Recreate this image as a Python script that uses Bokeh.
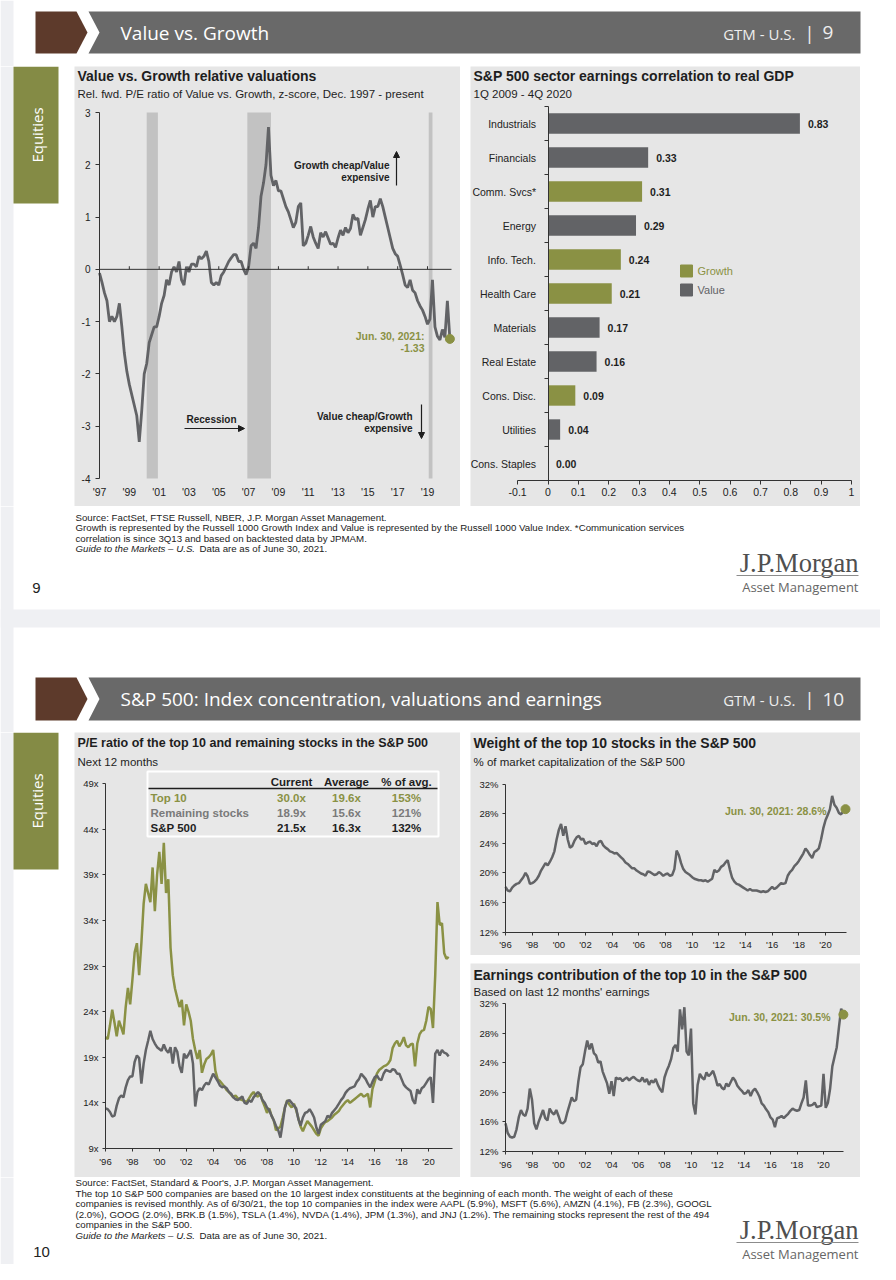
import math
from bokeh.plotting import figure
from bokeh.layouts import row, column
from bokeh.models import Range1d, LinearAxis, FixedTicker, PrintfTickFormatter, Arrow, NormalHead
from bokeh.core.properties import value
from bokeh.embed import file_html
from bokeh.resources import INLINE

# ======================= DATA =======================
# Chart 1: Value vs. Growth relative fwd P/E z-score (every 2 months, first obs. Dec 1997)
vg_first_month = (1997, 12)
vg_step_months = 2
vg_zscore = [
    -0.07, -0.25, -0.45, -0.6, -1.0, -0.9, -1.0, -0.9, -0.65, -1.1,
    -1.6, -1.95, -2.2, -2.4, -2.6, -2.8, -3.3, -2.7, -2.0, -1.8,
    -1.4, -1.25, -1.1, -1.1, -0.9, -0.65, -0.5, -0.2, -0.3, -0.05,
    0.05, -0.05, 0.15, -0.2, -0.3, 0.05, -0.05, 0.1, 0.1, 0.05,
    0.25, 0.2, 0.25, 0.35, 0.15, -0.25, -0.3, -0.25, -0.3, -0.12,
    -0.05, 0.05, 0.15, 0.22, 0.28, 0.28, 0.15, 0.15, 0.0, -0.1,
    0.05, 0.45, 0.5, 0.4, 0.8, 1.4, 1.65, 2.0, 2.72, 1.8,
    1.6, 1.7, 1.5, 1.5, 1.35, 1.2, 1.1, 0.95, 0.8, 0.9,
    1.2, 1.27, 0.45, 0.5, 0.65, 0.82, 0.62, 0.5, 0.4, 0.7,
    0.62, 0.72, 0.6, 0.48, 0.5, 0.42, 0.6, 0.75, 0.65, 0.8,
    0.7, 0.78, 1.05, 0.95, 0.98, 0.65, 0.8, 0.95, 1.15, 1.32,
    1.0, 1.2, 1.2, 1.35, 1.2, 1.0, 0.8, 0.6, 0.4, 0.3,
    0.25, 0.08, -0.1, -0.3, -0.35, -0.2, -0.4, -0.45, -0.6, -0.7,
    -0.78, -0.9, -1.05, -0.95, -0.2, -1.1, -1.28, -1.35, -1.15, -1.3,
    -0.6, -1.33,
]
recession_start = [(2001, 3), (2007, 12), (2020, 2)]
recession_end = [(2001, 11), (2009, 6), (2020, 4)]
vg_tick_years = [1997, 1999, 2001, 2003, 2005, 2007, 2009, 2011, 2013, 2015, 2017, 2019]
vg_y_ticks = [-4, -3, -2, -1, 0, 1, 2, 3]

# Chart 2: S&P 500 sector earnings correlation to real GDP
sectors = ["Industrials", "Financials", "Comm. Svcs*", "Energy", "Info. Tech.", "Health Care",
           "Materials", "Real Estate", "Cons. Disc.", "Utilities", "Cons. Staples"]
sector_corr = [0.83, 0.33, 0.31, 0.29, 0.24, 0.21, 0.17, 0.16, 0.09, 0.04, 0.00]
sector_style = ["Value", "Value", "Growth", "Value", "Growth", "Growth",
                "Value", "Value", "Growth", "Value", "Value"]
corr_ticks = [-0.1, 0.0, 0.1, 0.2, 0.3, 0.4, 0.5, 0.6, 0.7, 0.8, 0.9, 1.0]

# Charts 3-5: every 2 months, first obs. Dec 1995
s2_first_month = (1995, 12)
s2_step_months = 2
pe_top10 = [
    21.2, 21.0, 22.5, 24.2, 22.8, 21.3, 23.0, 22.3, 21.5, 24.5,
    26.6, 24.8, 27.5, 30.5, 31.5, 28.0, 31.5, 35.8, 38.0, 37.0,
    36.0, 39.8, 35.0, 39.0, 41.5, 38.0, 42.5, 37.0, 38.5, 31.0,
    28.0, 26.5, 25.5, 24.5, 25.3, 22.5, 24.8, 24.0, 23.0, 21.0,
    19.8, 18.8, 19.8, 17.3, 18.2, 18.8, 19.0, 19.3, 19.8, 17.5,
    16.6, 16.4, 16.1, 15.8, 15.4, 15.2, 14.9, 14.6, 14.8, 14.5,
    14.4, 14.3, 14.2, 14.1, 14.5, 14.9, 15.2, 14.8, 14.7, 15.0,
    14.2, 13.6, 12.9, 13.4, 12.6, 12.1, 11.0, 11.2, 11.4, 12.4,
    13.5, 14.3, 13.8, 13.5, 13.9, 13.2, 12.3, 11.4, 10.9, 11.5,
    12.0, 11.7, 11.4, 11.0, 10.6, 10.4, 11.2, 11.6, 11.9, 12.0,
    12.2, 12.4, 12.7, 12.9, 13.1, 13.5, 13.8, 14.1, 14.3, 14.0,
    14.2, 14.4, 14.6, 14.8, 15.0, 14.7, 14.8, 15.0, 13.5, 15.5,
    16.3, 17.2, 17.6, 17.8, 18.0, 18.1, 18.3, 18.7, 20.0, 20.5,
    20.8, 20.2, 20.6, 21.2, 20.3, 20.1, 20.4, 20.5, 18.0, 20.5,
    21.5, 21.9, 22.0, 23.0, 24.5, 24.3, 22.2, 28.0, 36.0, 33.5,
    33.7, 30.4, 29.8, 30.0,
]
pe_remaining = [
    13.4, 13.3, 13.0, 12.5, 12.6, 13.7, 14.5, 14.8, 14.6, 15.7,
    16.5, 16.9, 16.9, 18.5, 19.2, 18.9, 16.1, 18.3, 19.8, 20.8,
    21.9, 21.0, 20.5, 20.1, 19.9, 19.7, 20.4, 19.8, 19.5, 20.1,
    18.3, 20.1, 19.6, 18.0, 17.3, 19.4, 18.9, 19.3, 19.8, 18.3,
    13.6, 15.2, 15.6, 15.4, 15.9, 16.2, 16.0, 16.6, 17.2, 16.8,
    16.4, 15.9, 15.7, 15.8, 15.6, 15.2, 15.0, 14.6, 14.4, 14.3,
    14.5, 14.7, 14.0, 13.9, 14.3, 14.1, 14.6, 14.9, 15.2, 14.9,
    14.3, 14.0, 13.5, 13.2, 12.6, 12.1, 11.5, 11.0, 10.2, 11.8,
    13.5, 14.2, 14.3, 14.0, 13.7, 13.4, 12.2, 11.5, 12.4, 12.9,
    13.0, 13.3, 12.9, 12.4, 11.3, 10.6, 11.6, 11.8, 12.0, 12.6,
    12.4, 12.9, 13.2, 13.5, 13.9, 14.3, 14.6, 15.1, 15.4, 15.6,
    15.7, 15.8, 16.3, 16.6, 17.2, 16.9, 16.6, 16.1, 15.7, 16.3,
    16.8, 17.0, 16.6, 16.5, 17.2, 17.6, 17.5, 17.4, 17.7, 17.6,
    17.2, 17.2, 16.6, 16.0, 15.7, 15.5, 15.3, 14.3, 13.9, 15.5,
    15.0, 15.6, 15.8, 16.2, 16.6, 16.8, 14.0, 19.4, 19.8, 19.2,
    19.8, 19.5, 19.4, 19.1,
]
pe_y_ticks = [9, 14, 19, 24, 29, 34, 39, 44, 49]
table_header = ["Current", "Average", "% of avg."]
table_rows = ["Top 10", "Remaining stocks", "S&P 500"]
table_current = ["30.0x", "18.9x", "21.5x"]
table_average = ["19.6x", "15.6x", "16.3x"]
table_pct = ["153%", "121%", "132%"]

weight_top10 = [
    18.1, 17.6, 17.5, 18.0, 18.3, 18.5, 18.6, 19.0, 19.4, 20.0,
    19.5, 18.5, 18.6, 18.8, 19.1, 19.6, 20.3, 20.8, 21.3, 21.0,
    21.5, 22.1, 22.9, 24.5, 25.8, 26.6, 25.0, 26.3, 24.5, 23.4,
    23.6, 24.3, 24.8, 25.0, 24.5, 24.6, 23.9, 24.1, 24.2, 23.9,
    24.0, 23.6, 24.2, 24.3, 23.7, 23.4, 23.2, 22.9, 22.8, 22.6,
    22.7, 22.4, 22.1, 21.8, 21.4, 21.2, 20.9, 20.6, 20.6, 20.3,
    20.1, 19.9, 19.8, 19.6, 20.2, 20.1, 19.9, 19.7, 19.8, 20.1,
    19.9, 19.6, 19.8, 19.9, 19.6, 19.7, 20.5, 23.0, 22.4, 21.3,
    20.5, 20.1, 19.9, 19.7, 19.4, 19.2, 19.1, 19.0, 19.0, 18.9,
    19.0, 18.8, 19.0, 19.2, 20.4, 20.1, 20.3, 20.8, 21.0, 21.4,
    21.7, 20.4, 19.3, 18.8, 18.5, 18.4, 18.2, 18.0, 17.8, 17.6,
    17.8, 17.6, 17.6, 17.6, 17.5, 17.4, 17.5, 17.4, 17.5, 17.8,
    18.1, 17.8, 18.0, 18.3, 18.6, 18.5, 18.6, 19.6, 20.1, 20.4,
    20.9, 21.2, 21.6, 22.1, 22.6, 23.3, 22.9, 22.4, 22.0, 22.8,
    23.0, 23.3, 24.5, 26.0, 27.1, 27.8, 28.6, 30.4, 29.2, 28.8,
    28.1, 27.9, 28.3, 28.6,
]
earnings_top10 = [
    15.8, 14.5, 14.0, 13.9, 14.0, 15.0, 16.6, 17.6, 17.0, 16.8,
    17.8, 20.5, 19.0, 15.8, 15.0, 16.0, 16.8, 17.6, 16.5, 16.2,
    17.8, 17.3, 17.0, 17.6, 16.8, 15.9, 15.8, 16.1, 17.3, 18.3,
    19.3, 18.8, 19.0, 21.5, 23.4, 23.8, 25.5, 27.0, 25.8, 26.6,
    25.3, 25.0, 24.0, 24.2, 22.8, 22.0, 21.2, 19.8, 21.5, 19.5,
    22.0, 21.8, 21.9, 21.5, 21.8, 22.0, 21.6, 21.9, 22.1, 21.8,
    21.6, 21.5, 22.0, 21.4, 21.8, 21.0, 21.6, 21.3, 21.8, 21.0,
    20.4, 20.0, 22.0, 22.9, 23.6, 24.5, 26.0, 26.4, 25.5, 31.2,
    28.5, 31.5, 25.5, 25.0, 28.6, 18.5, 17.0, 21.0, 22.5, 22.0,
    21.7, 22.7, 22.2, 22.5, 22.9, 22.0, 20.9, 21.1, 20.6, 20.4,
    21.2, 20.8, 21.4, 22.0, 21.6, 20.9, 20.5, 20.2, 19.8, 19.9,
    20.3, 19.5, 20.2, 20.5, 20.0, 19.4, 18.5, 18.2, 17.7, 17.3,
    16.6, 16.3, 15.3, 16.5, 16.6, 16.8, 16.5, 16.8, 17.1, 17.5,
    17.8, 17.6, 17.5, 17.6, 18.5, 19.3, 21.6, 18.2, 18.2, 18.3,
    18.6, 18.0, 18.1, 18.2, 22.5, 17.9, 18.6, 20.5, 23.5, 24.8,
    26.1, 28.8, 31.3, 30.5,
]
pct_y_ticks = [12, 16, 20, 24, 28, 32]
s2_tick_years = [1996, 1998, 2000, 2002, 2004, 2006, 2008, 2010, 2012, 2014, 2016, 2018, 2020]

# ======================= STYLE =======================
OLIVE = "#8a9144"
GRAY = "#626366"
PANEL = "#e6e6e6"
HEADER = "#696969"
BROWN = "#5d3a2b"
TAB = "#848b45"
REC = "#c2c2c2"
SIDE = "#eff0f3"
INK = "#1e1e1e"
AXIS = "#333333"
SANS = "Liberation Sans"


def month_end(y, m):
    return (y * 12 + m) / 12.0


def month_start(y, m):
    return (y * 12 + m - 1) / 12.0


def series_x(first, step, n):
    b = month_end(*first)
    return [b + k * step / 12.0 for k in range(n)]


class Geo:
    """Maps page-layout pixels of a panel onto the data space of its figure."""
    def __init__(self, x0, y0, w, h, xa=(0, 0), xb=(1, 1), ya=(0, 0), yb=(1, 1)):
        self.x0, self.y0, self.w, self.h = x0, y0, w, h
        self.xa, self.ya = xa, ya
        self.kx = (xb[1] - xa[1]) / (xb[0] - xa[0])
        self.ky = (yb[1] - ya[1]) / (yb[0] - ya[0])

    def X(self, px):
        return self.xa[1] + (px - self.xa[0]) * self.kx

    def Y(self, py):
        return self.ya[1] + (py - self.ya[0]) * self.ky


def make_fig(g, bg):
    p = figure(width=g.w, height=g.h,
               x_range=Range1d(g.X(g.x0), g.X(g.x0 + g.w)),
               y_range=Range1d(g.Y(g.y0 + g.h), g.Y(g.y0)),
               x_axis_type=None, y_axis_type=None, min_border=0, min_border_left=0,
               min_border_right=0, min_border_top=0, min_border_bottom=0,
               outline_line_color=None, background_fill_color=bg, border_fill_color=bg,
               toolbar_location=None, tools="", output_backend="svg")
    return p


def canvas(x0, y0, w, h, bg="#ffffff"):
    g = Geo(x0, y0, w, h)
    p = make_fig(g, bg)
    p.quad(left=[x0], right=[x0 + w], top=[y0], bottom=[y0 + h], fill_color=bg, line_color=None)
    return p, g


def gtxt(p, g, px, py, s, size, color=INK, font=SANS, style="normal", align="left",
         baseline="middle", angle=0.0):
    p.text(x=[g.X(px)], y=[g.Y(py)], text=[s], text_font=value(font),
           text_font_size=value(f"{size}px"), text_color=color,
           text_font_style=value(style), text_align=value(align),
           text_baseline=value(baseline), angle=angle)


def garrow(p, g, x0, y0, x1, y1):
    p.add_layout(Arrow(end=NormalHead(size=6, fill_color=INK, line_color=INK),
                       x_start=g.X(x0), y_start=g.Y(y0), x_end=g.X(x1), y_end=g.Y(y1),
                       line_color=INK, line_width=1.2))


def make_axis(ticks, size, standoff, tick_out=4, formatter=None, overrides=None, line=True,
              minor=None, fixed=None, bounds=None):
    ax = LinearAxis(ticker=FixedTicker(ticks=ticks, minor_ticks=minor or []))
    if formatter is not None:
        ax.formatter = formatter
    if overrides is not None:
        ax.major_label_overrides = overrides
    ax.axis_line_color = AXIS if line else None
    ax.axis_line_width = 1
    ax.major_tick_line_color = AXIS if tick_out else None
    ax.major_tick_out = tick_out
    ax.major_tick_in = 0
    ax.minor_tick_line_color = AXIS if minor else None
    ax.minor_tick_out = 4
    ax.minor_tick_in = 0
    ax.major_label_standoff = standoff
    ax.major_label_text_font = SANS
    ax.major_label_text_font_size = f"{size}px"
    ax.major_label_text_color = "#222222"
    if fixed is not None:
        ax.fixed_location = fixed
    if bounds is not None:
        ax.bounds = bounds
    return ax


def header(p, g, ytop, ybot, title, num):
    ym = (ytop + ybot) / 2
    p.patch([35, 76, 87, 76, 35], [ytop, ytop, ym, ybot, ybot], fill_color=BROWN, line_color=None)
    p.patch([88, 860, 860, 88, 99], [ytop, ytop, ybot, ybot, ym], fill_color=HEADER, line_color=None)
    gtxt(p, g, 120, ym, title, 19, "#ffffff", "Open Sans")
    gtxt(p, g, 795, ym + 1, "GTM - U.S.", 15, "#eeeeee", "Open Sans", align="right")
    gtxt(p, g, 809, ym, "|", 19, "#eeeeee", "Open Sans", align="center")
    gtxt(p, g, 822, ym, num, 19, "#eeeeee", "Open Sans")


def logo(p, g, yj, yl, ya):
    gtxt(p, g, 858, yj, "J.P.Morgan", 26.5, "#4f4f4f", "Liberation Serif", align="right")
    p.segment(x0=[736], y0=[yl], x1=[858], y1=[yl], line_color="#8c8c8c", line_width=1)
    gtxt(p, g, 858, ya, "Asset Management", 13, "#666666", "Open Sans", align="right")


def footnotes(p, g, lines, y0, dy):
    for i, s in enumerate(lines):
        gtxt(p, g, 75, y0 + i * dy, s, 9.7, "#222222")
    yl = y0 + len(lines) * dy
    gtxt(p, g, 75, yl, "Guide to the Markets – U.S.", 9.7, "#222222", style="italic")
    gtxt(p, g, 199, yl, "Data are as of June 30, 2021.", 9.7, "#222222")


def tab(p, g, y0, y1):
    p.quad(left=[13], right=[58], top=[y0], bottom=[y1], fill_color=TAB, line_color=None)
    gtxt(p, g, 36, (y0 + y1) / 2, "Equities", 15, "#ffffff", "Open Sans", align="center",
         angle=math.pi / 2)


def left_strip(p, y0, y1):
    p.quad(left=[0], right=[13], top=[y0], bottom=[y1], fill_color=SIDE, line_color=None)


# ======================= ROW 1: header slide 1 =======================
h1, gh1 = canvas(0, 0, 880, 66)
left_strip(h1, 0, 66)
header(h1, gh1, 11, 53, "Value vs. Growth", "9")

# ======================= ROW 2: slide 1 charts =======================
g1, gg1 = canvas(0, 66, 74, 440)
left_strip(g1, 66, 506)
tab(g1, gg1, 66, 203)

# ---- Chart 1 ----
vg_x = series_x(vg_first_month, vg_step_months, len(vg_zscore))
vg_xticks = [month_end(y, 12) for y in vg_tick_years]
vg_labels = {month_end(y, 12): "'%02d" % (y % 100) for y in vg_tick_years}
G1 = Geo(74, 66, 386, 440, (99, vg_xticks[0]), (427, vg_xticks[-1]), (112, 3.0), (478, -4.0))
p1 = make_fig(G1, PANEL)
gtxt(p1, G1, 77, 75, "Value vs. Growth relative valuations", 14, INK, style="bold")
gtxt(p1, G1, 77, 93, "Rel. fwd. P/E ratio of Value vs. Growth, z-score, Dec. 1997 - present", 11.5, INK)
p1.quad(left=[month_start(*s) for s in recession_start], right=[month_end(*e) for e in recession_end],
        bottom=vg_y_ticks[0], top=vg_y_ticks[-1], fill_color=REC, line_color=None)
p1.line(vg_x, vg_zscore, line_color=GRAY, line_width=2.8)
p1.segment(x0=[vg_xticks[0]], y0=[0], x1=[G1.X(451)], y1=[0], line_color=AXIS, line_width=1)
p1.segment(x0=vg_xticks, y0=0, x1=vg_xticks, y1=0.06, line_color=AXIS, line_width=1)
p1.scatter([vg_x[-1]], [vg_zscore[-1]], size=9, color=OLIVE)
gtxt(p1, G1, 389, 165, "Growth cheap/Value", 10, INK, style="bold", align="right")
gtxt(p1, G1, 389, 177, "expensive", 10, INK, style="bold", align="right")
garrow(p1, G1, 396, 185, 396, 151)
gtxt(p1, G1, 186, 419, "Recession", 10, INK, style="bold")
garrow(p1, G1, 184, 428, 244, 428)
gtxt(p1, G1, 412, 416, "Value cheap/Growth", 10, INK, style="bold", align="right")
gtxt(p1, G1, 412, 428, "expensive", 10, INK, style="bold", align="right")
garrow(p1, G1, 421, 404, 421, 438)
gtxt(p1, G1, 424, 335, "Jun. 30, 2021:", 10.5, OLIVE, style="bold", align="right")
gtxt(p1, G1, 424, 347, "%.2f" % vg_zscore[-1], 10.5, OLIVE, style="bold", align="right")
p1.add_layout(make_axis(vg_y_ticks, 10, 5, 4, formatter=PrintfTickFormatter(format="%d"),
                        fixed=vg_xticks[0], bounds=(vg_y_ticks[0], vg_y_ticks[-1])), "left")
p1.add_layout(make_axis(vg_xticks, 10.5, 7, 0, overrides=vg_labels, line=False,
                        fixed=vg_y_ticks[0]), "below")

gap1, _ = canvas(460, 66, 10, 440)

# ---- Chart 2 ----
ypos = list(range(len(sectors) - 1, -1, -1))
bar_colors = [OLIVE if s == "Growth" else GRAY for s in sector_style]
G2 = Geo(470, 66, 390, 440, (547.5, 0.0), (851, 1.0), (123, ypos[0]), (463, ypos[-1]))
p2 = make_fig(G2, PANEL)
gtxt(p2, G2, 473, 75, "S&P 500 sector earnings correlation to real GDP", 14, INK, style="bold")
gtxt(p2, G2, 473, 93, "1Q 2009 - 4Q 2020", 11.5, INK)
p2.hbar(y=ypos, left=0, right=sector_corr, height=0.6, fill_color=bar_colors, line_color=None)
p2.text(x=sector_corr, y=ypos, text=["%.2f" % v for v in sector_corr], x_offset=8,
        text_font=value(SANS), text_font_size=value("10.5px"), text_font_style=value("bold"),
        text_color=INK, text_baseline=value("middle"))
p2.scatter([G2.X(686)] * 2, [G2.Y(270.5), G2.Y(289.5)], marker="square", size=12,
           color=[OLIVE, GRAY])
p2.text(x=[G2.X(697)] * 2, y=[G2.Y(270.5), G2.Y(289.5)], text=["Growth", "Value"],
        text_color=[OLIVE, GRAY], text_font=value(SANS), text_font_size=value("11px"),
        text_baseline=value("middle"))
p2.add_layout(make_axis(ypos, 10.5, 8, 0,
                        overrides={ypos[i]: sectors[i] for i in range(len(sectors))},
                        minor=[k + 0.5 for k in range(-1, len(sectors))], fixed=0,
                        bounds=(-0.5, len(sectors) - 0.5)), "left")
p2.add_layout(make_axis(corr_ticks, 10.5, 3, 4, formatter=PrintfTickFormatter(format="%g"),
                        fixed=-0.5, bounds=(corr_ticks[0], corr_ticks[-1])), "below")

r1, _ = canvas(860, 66, 20, 440)

row2 = row(g1, p1, gap1, p2, r1)

# ======================= ROW 3: footer slide 1 + header slide 2 =======================
mid, gm = canvas(0, 506, 880, 226)
left_strip(mid, 506, 732)
footnotes(mid, gm, [
    "Source: FactSet, FTSE Russell, NBER, J.P. Morgan Asset Management.",
    "Growth is represented by the Russell 1000 Growth Index and Value is represented by the Russell 1000 Value Index. *Communication services",
    "correlation is since 3Q13 and based on backtested data by JPMAM.",
], 517, 10.4)
gtxt(mid, gm, 36, 587, "9", 15, "#222222", align="center")
logo(mid, gm, 562, 575, 586)
mid.quad(left=[0], right=[880], top=[609], bottom=[627], fill_color=SIDE, line_color=None)
header(mid, gm, 677, 720, "S&P 500: Index concentration, valuations and earnings", "10")

# ======================= ROW 4: slide 2 charts =======================
g2, gg2 = canvas(0, 732, 74, 445)
left_strip(g2, 732, 1177)
tab(g2, gg2, 732, 869)

s2_x = series_x(s2_first_month, s2_step_months, len(pe_top10))
s2_ticks = [month_start(y, 1) for y in s2_tick_years]
s2_labels = {month_start(y, 1): "'%02d" % (y % 100) for y in s2_tick_years}

# ---- Chart 3 ----
G3 = Geo(74, 732, 386, 445, (105, s2_ticks[0]), (428, s2_ticks[-1]), (1148, pe_y_ticks[0]),
         (783, pe_y_ticks[-1]))
p3 = make_fig(G3, PANEL)
gtxt(p3, G3, 77, 742, "P/E ratio of the top 10 and remaining stocks in the S&P 500", 12.5, INK, style="bold")
gtxt(p3, G3, 77, 761, "Next 12 months", 11.5, INK)
p3.line(s2_x, pe_top10, line_color=OLIVE, line_width=2.5)
p3.line(s2_x, pe_remaining, line_color=GRAY, line_width=2.5)
p3.quad(left=[G3.X(147)], right=[G3.X(438)], top=[G3.Y(771)], bottom=[G3.Y(836)],
        fill_color="#e8e8e8", line_color="#ffffff", line_width=2)
p3.segment(x0=[G3.X(148)], y0=[G3.Y(788)], x1=[G3.X(437)], y1=[G3.Y(788)], line_color=INK,
           line_width=1.3)
col_px = [291, 346, 406]
row_py = [797, 812, 827]
row_colors = [OLIVE, "#7a7a7a", INK]
for j, h in enumerate(table_header):
    gtxt(p3, G3, col_px[j], 781, h, 11.5, INK, style="bold", align="center")
for i, name in enumerate(table_rows):
    gtxt(p3, G3, 150, row_py[i], name, 11.5, row_colors[i], style="bold")
    for j, cell in enumerate([table_current[i], table_average[i], table_pct[i]]):
        gtxt(p3, G3, col_px[j], row_py[i], cell, 11.5, row_colors[i], style="bold", align="center")
p3.add_layout(make_axis(pe_y_ticks, 9.5, 4, 3, formatter=PrintfTickFormatter(format="%dx"),
                        fixed=s2_ticks[0], bounds=(pe_y_ticks[0], pe_y_ticks[-1])), "left")
p3.add_layout(make_axis(s2_ticks, 9.5, 4, 3, overrides=s2_labels, fixed=pe_y_ticks[0],
                        bounds=(s2_ticks[0], G3.X(452))), "below")

gap2, _ = canvas(460, 732, 10, 445)

# ---- Chart 4 ----
G4 = Geo(470, 732, 390, 223, (505, s2_ticks[0]), (825, s2_ticks[-1]), (931.5, pct_y_ticks[0]),
         (783.5, pct_y_ticks[-1]))
p4 = make_fig(G4, PANEL)
gtxt(p4, G4, 473, 742, "Weight of the top 10 stocks in the S&P 500", 14, INK, style="bold")
gtxt(p4, G4, 473, 761, "% of market capitalization of the S&P 500", 11.5, INK)
p4.line(s2_x, weight_top10, line_color=GRAY, line_width=2.5)
p4.scatter([s2_x[-1]], [weight_top10[-1]], size=9, color=OLIVE)
gtxt(p4, G4, 826, 810, "Jun. 30, 2021: %.1f%%" % weight_top10[-1], 10.5, OLIVE, style="bold", align="right")
p4.add_layout(make_axis(pct_y_ticks, 9.5, 4, 3, formatter=PrintfTickFormatter(format="%d%%"),
                        fixed=s2_ticks[0], bounds=(pct_y_ticks[0], pct_y_ticks[-1])), "left")
p4.add_layout(make_axis(s2_ticks, 9.5, 4, 3, overrides=s2_labels, fixed=pct_y_ticks[0],
                        bounds=(s2_ticks[0], G4.X(846))), "below")

gap3, _ = canvas(470, 955, 390, 8)

# ---- Chart 5 ----
G5 = Geo(470, 963, 390, 214, (505, s2_ticks[0]), (823, s2_ticks[-1]), (1151, pct_y_ticks[0]),
         (1003, pct_y_ticks[-1]))
p5 = make_fig(G5, PANEL)
gtxt(p5, G5, 473, 974, "Earnings contribution of the top 10 in the S&P 500", 14, INK, style="bold")
gtxt(p5, G5, 473, 991, "Based on last 12 months' earnings", 11.5, INK)
p5.line(s2_x, earnings_top10, line_color=GRAY, line_width=2.5)
p5.scatter([s2_x[-1]], [earnings_top10[-1]], size=9, color=OLIVE)
gtxt(p5, G5, 830, 1016, "Jun. 30, 2021: %.1f%%" % earnings_top10[-1], 10.5, OLIVE, style="bold", align="right")
p5.add_layout(make_axis(pct_y_ticks, 9.5, 4, 3, formatter=PrintfTickFormatter(format="%d%%"),
                        fixed=s2_ticks[0], bounds=(pct_y_ticks[0], pct_y_ticks[-1])), "left")
p5.add_layout(make_axis(s2_ticks, 9.5, 4, 3, overrides=s2_labels, fixed=pct_y_ticks[0],
                        bounds=(s2_ticks[0], G5.X(843))), "below")

r2, _ = canvas(860, 732, 20, 445)

row4 = row(g2, p3, gap2, column(p4, gap3, p5), r2)

# ======================= ROW 5: footer slide 2 =======================
foot, gf = canvas(0, 1177, 880, 87)
left_strip(foot, 1177, 1264)
footnotes(foot, gf, [
    "Source: FactSet, Standard & Poor's, J.P. Morgan Asset Management.",
    "The top 10 S&P 500 companies are based on the 10 largest index constituents at the beginning of each month. The weight of each of these",
    "companies is revised monthly. As of 6/30/21, the top 10 companies in the index were AAPL (5.9%), MSFT (5.6%), AMZN (4.1%), FB (2.3%), GOOGL",
    "(2.0%), GOOG (2.0%), BRK.B (1.5%), TSLA (1.4%), NVDA (1.4%),  JPM (1.3%), and JNJ (1.2%). The remaining stocks represent the rest of the 494",
    "companies in the S&P 500.",
], 1182, 10.6)
gtxt(foot, gf, 41, 1251, "10", 15, "#222222", align="center")
logo(foot, gf, 1229, 1242, 1253)

page = column(h1, row2, mid, row4, foot)
open("out.html", "w").write(file_html(page, INLINE, title="Value vs. Growth / S&P 500 concentration"))
